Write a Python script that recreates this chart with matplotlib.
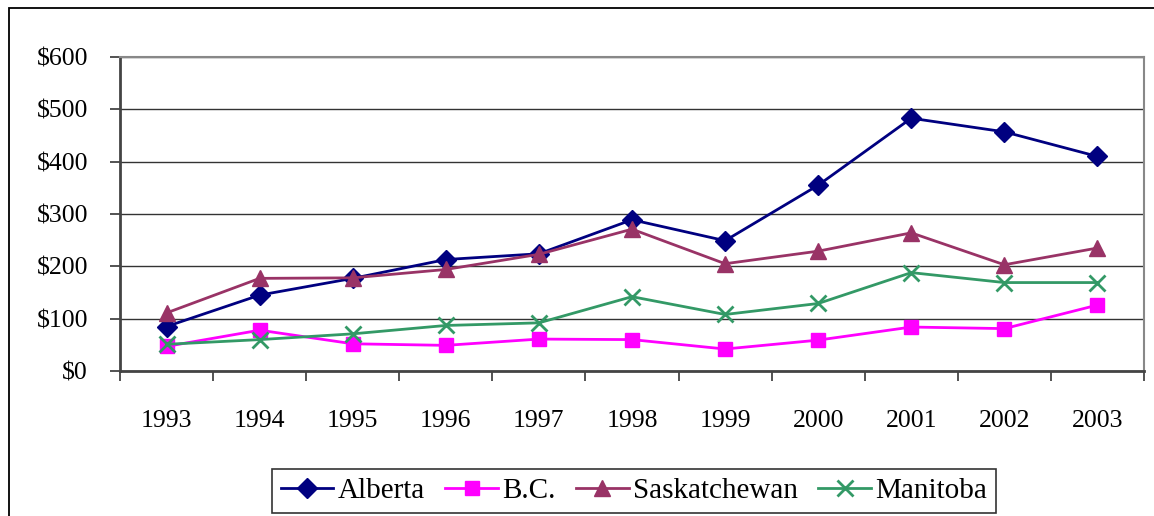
import numpy as np
import matplotlib
matplotlib.use("Agg")
import matplotlib.pyplot as plt
from matplotlib.patches import Rectangle

years = ["1993", "1994", "1995", "1996", "1997", "1998", "1999", "2000", "2001", "2002", "2003"]
alberta = [85, 145, 177, 213, 224, 289, 249, 355, 483, 457, 410]
bc = [47, 78, 52, 49, 61, 60, 42, 59, 84, 81, 126]
saskatchewan = [111, 177, 178, 194, 223, 271, 205, 229, 264, 203, 235]
manitoba = [51, 60, 71, 87, 92, 142, 108, 129, 188, 169, 169]
yticks = [0, 100, 200, 300, 400, 500, 600]

plt.rcParams['font.family'] = ['Liberation Serif', 'DejaVu Serif']
FS = 18.5

W, H = 1154, 516
fig = plt.figure(figsize=(W / 100, H / 100), dpi=100)
ax = fig.add_axes([120 / W, 1 - 371 / H, (1144 - 120) / W, (371 - 57) / H])

# outer chart border
fig.patches.append(Rectangle((9 / W, -0.1), 1.2, 1 - 8 / H + 0.1, transform=fig.transFigure,
                             fill=False, edgecolor='black', linewidth=1.3))

x = np.arange(len(years))
ax.plot(x, alberta, color='#000080', marker='D', markersize=10, linewidth=2, label='Alberta')
ax.plot(x, bc, color='#FF00FF', marker='s', markersize=10.5, linewidth=2, label='B.C.')
ax.plot(x, saskatchewan, color='#993366', marker='^', markersize=12, linewidth=2, label='Saskatchewan')
ax.plot(x, manitoba, color='#339966', marker='x', markersize=11, markeredgewidth=2, linewidth=2,
        label='Manitoba')

ax.set_xlim(-0.5, len(years) - 0.5)
ax.set_ylim(0, 600)
ax.set_yticks(yticks)
ax.set_yticklabels(["$" + str(v) for v in yticks], fontsize=FS)
ax.yaxis.grid(True, color='#333333', linewidth=1)
ax.set_axisbelow(True)

ax.set_xticks(x)
ax.set_xticklabels(years, fontsize=FS)
ax.set_xticks(np.arange(-0.5, len(years)), minor=True)
ax.tick_params(axis='x', which='major', length=0, pad=28)
ax.tick_params(axis='x', which='minor', length=7, width=1.3, color='#444444')
ax.tick_params(axis='y', length=7, width=1.3, color='#444444', pad=16)

for side in ['left', 'bottom']:
    ax.spines[side].set_color('#444444')
    ax.spines[side].set_linewidth(2)
for side in ['top', 'right']:
    ax.spines[side].set_color('#888888')
    ax.spines[side].set_linewidth(1.5)

leg = ax.legend(loc='center', bbox_to_anchor=(634 / W, 1 - 491 / H), bbox_transform=fig.transFigure,
                ncol=4, fontsize=21, frameon=True, fancybox=False, handlelength=1.8,
                handletextpad=0.15, columnspacing=0.7, borderpad=0.3, borderaxespad=0)
leg.get_frame().set_edgecolor('black')
leg.get_frame().set_linewidth(1.2)

fig.savefig("out.png", dpi=100)
